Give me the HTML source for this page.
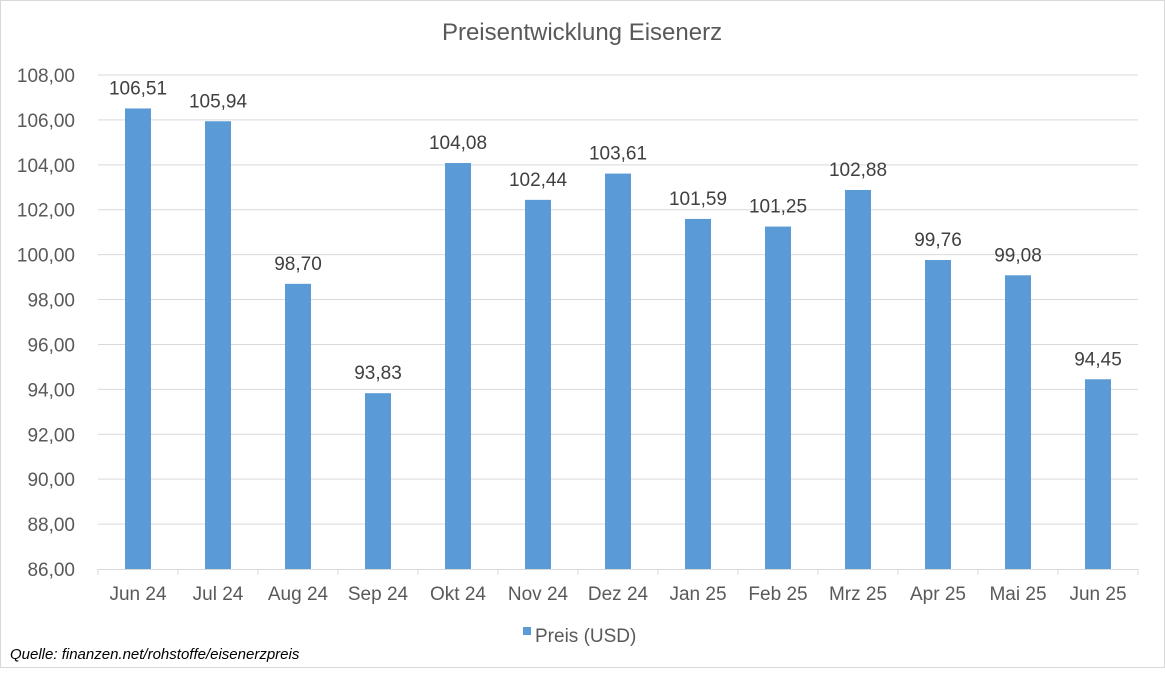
<!DOCTYPE html>
<html><head><meta charset="utf-8"><style>
body{margin:0;background:#fff;font-family:"Liberation Sans",sans-serif}
svg text{font-family:"Liberation Sans",sans-serif}
</style></head><body>
<svg width="1165" height="668">
<rect x="0.5" y="0.5" width="1164" height="667" fill="#fff" stroke="#d9d9d9"/>
<text x="582" y="40" text-anchor="middle" font-size="24" fill="#595959">Preisentwicklung Eisenerz</text>
<g id="grid"></g><g id="bars"></g><g id="xaxis"></g>
<rect x="523" y="627" width="8" height="8" fill="#5b9bd5"/>
<text x="535" y="642" font-size="19" fill="#595959">Preis (USD)</text>
<text x="10" y="659" font-size="15" font-style="italic" fill="#000">Quelle: finanzen.net/rohstoffe/eisenerzpreis</text>
</svg>
<script>
const categories=["Jun 24","Jul 24","Aug 24","Sep 24","Okt 24","Nov 24","Dez 24","Jan 25","Feb 25","Mrz 25","Apr 25","Mai 25","Jun 25"];
const values=[106.51,105.94,98.70,93.83,104.08,102.44,103.61,101.59,101.25,102.88,99.76,99.08,94.45];
const yTicks=[86,88,90,92,94,96,98,100,102,104,106,108];
const NS="http://www.w3.org/2000/svg";
const x0=98,x1=1138,yTop=75,yBot=569,yMin=86,yMax=108;
const bw=(x1-x0)/categories.length;
const y=v=>yBot-(v-yMin)/(yMax-yMin)*(yBot-yTop);
const xc=i=>x0+bw*(i+0.5);
const fmt=v=>v.toFixed(2).replace('.',',');
function mk(t,a,p){const e=document.createElementNS(NS,t);for(const k in a)e.setAttribute(k,a[k]);p.appendChild(e);return e;}
const grid=document.getElementById('grid'),bars=document.getElementById('bars'),xa=document.getElementById('xaxis');
yTicks.forEach(v=>{
 if(v!==yMin){const l=mk('line',{x1:x0,x2:x1,y1:y(v),y2:y(v),stroke:'#d9d9d9','stroke-width':1},grid);
 
 }
 const t=mk('text',{x:75,y:y(v)+7,'text-anchor':'end','font-size':19,fill:'#595959'},grid);
 t.textContent=fmt(v);
 
 
});
const ax=mk('line',{x1:x0,x2:x1,y1:yBot+0.5,y2:yBot+0.5,stroke:'#d9d9d9','stroke-width':1},xa);


for(let i=0;i<=categories.length;i++){
 const tk=mk('line',{x1:x0+bw*i,x2:x0+bw*i,y1:yBot,y2:yBot+6,stroke:'#d9d9d9'},xa);
 
 
}
categories.forEach((c,i)=>{
 const r=mk('rect',{x:xc(i)-13,y:y(values[i]),width:26,height:yBot-y(values[i]),fill:'#5b9bd5'},bars);
 
 
 const lb=mk('text',{x:xc(i),y:y(values[i])-14,'text-anchor':'middle','font-size':19,fill:'#404040'},bars);
 lb.textContent=fmt(values[i]);
 
 
 const t=mk('text',{x:xc(i),y:600,'text-anchor':'middle','font-size':19,fill:'#595959'},xa);
 t.textContent=c;
 
 
});
</script>
</body></html>
